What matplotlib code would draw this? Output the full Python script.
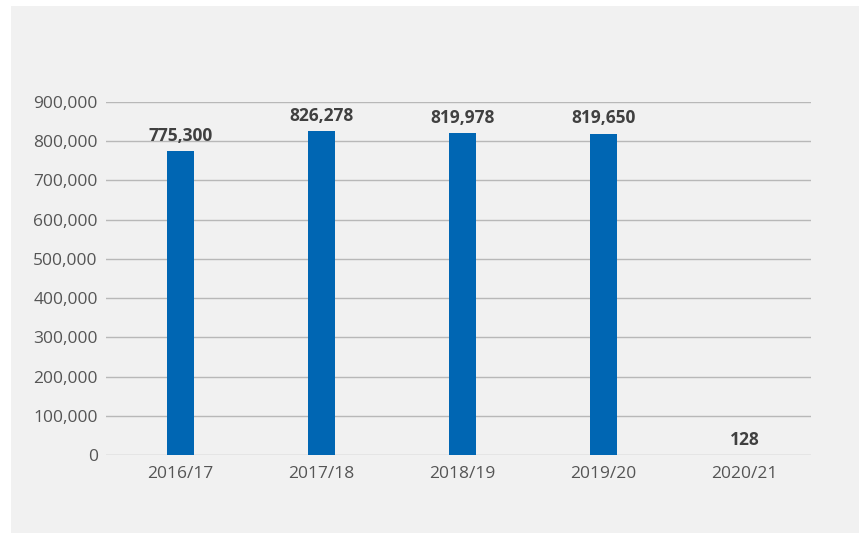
import matplotlib
matplotlib.use("Agg")
import matplotlib.pyplot as plt
from matplotlib.patches import Rectangle

categories = ["2016/17", "2017/18", "2018/19", "2019/20", "2020/21"]
values = [775300, 826278, 819978, 819650, 128]
yticks = [0, 100000, 200000, 300000, 400000, 500000, 600000, 700000, 800000, 900000]

plt.rcParams['font.family'] = ['Open Sans', 'DejaVu Sans']

W, H = 859, 533
fig = plt.figure(figsize=(W/100, H/100), dpi=100, facecolor='white')
bg = Rectangle((11/W, 0), 1 - 11/W, 1 - 6/H, transform=fig.transFigure,
               facecolor='#f1f1f1', edgecolor='none', zorder=-10)
fig.add_artist(bg)

ax = fig.add_axes([106/W, (H-455)/H, (811-106)/W, (455-102)/H])
ax.set_zorder(5)
ax.set_facecolor('none')
x = list(range(len(categories)))
ax.bar(x, values, width=0.19, color='#0066b3', zorder=3)
ax.set_xlim(-0.53, 4.47)
ax.set_ylim(0, 900000)
ax.set_yticks(yticks)
ax.set_yticklabels([f"{v:,}" for v in yticks])
ax.set_xticks(x)
ax.set_xticklabels(categories)
ax.yaxis.grid(True, color='#b8b8b8', linewidth=1, zorder=0)
ax.set_axisbelow(True)
for s in ax.spines.values():
    s.set_visible(False)
ax.tick_params(axis='both', length=0, labelsize=12.5, labelcolor='#555555')
ax.tick_params(axis='y', pad=6)
ax.tick_params(axis='x', pad=8)

for xi, v in zip(x, values):
    ax.annotate(f"{v:,}", (xi, v), xytext=(0, 4.5), textcoords='offset points',
                ha='center', va='bottom', fontsize=12.5, fontweight='bold', color='#404040')

fig.savefig("out.png", dpi=100, facecolor='white')
